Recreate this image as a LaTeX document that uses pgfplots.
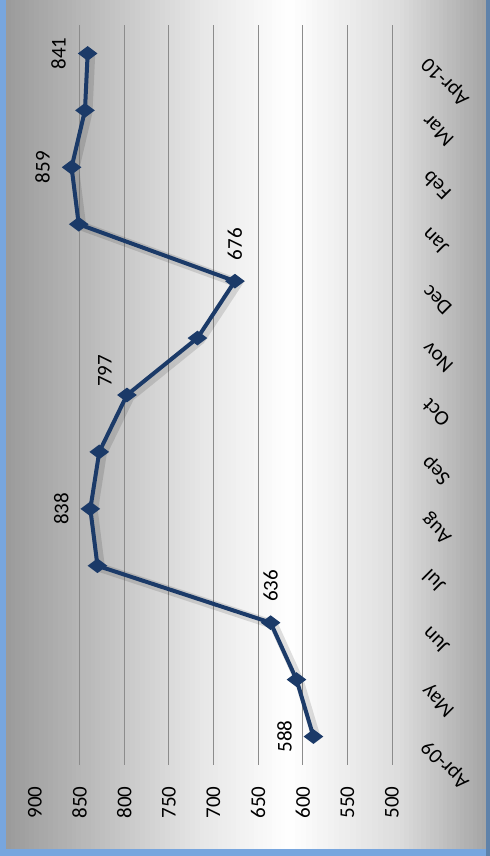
\documentclass[border=0pt]{standalone}
\usepackage{pgfplots}
\pgfplotsset{compat=1.18}
\usepackage{fontspec}
\setmainfont{Carlito}
\definecolor{navy}{RGB}{27,58,104}
\definecolor{bgblue}{RGB}{120,166,222}
\definecolor{bgright}{RGB}{95,130,170}
\definecolor{g0}{RGB}{165,165,165}
\definecolor{g1}{RGB}{220,220,220}
\definecolor{g2}{RGB}{230,230,230}
\definecolor{g3}{RGB}{190,190,190}
\definecolor{g4}{RGB}{154,154,154}
\begin{document}
\begin{tikzpicture}[rotate=90, transform shape]
\useasboundingbox (0,0) rectangle (856bp,490bp);
\fill[bgblue] (0,0) rectangle (856bp,490bp);
\fill[bgright] (0,0) rectangle (856bp,4bp);
\foreach \a/\b/\ca/\cb in {4/90/g0/g1, 90/200/g1/white, 200/290/white/g2, 290/390/g2/g3, 390/484/g3/g4}{
  \foreach \i in {0,...,19}{
    \pgfmathsetmacro\ylo{\a+(\b-\a)*\i/20}
    \pgfmathsetmacro\yhi{min(\a+(\b-\a)*(\i+1)/20+0.6,484)}
    \pgfmathsetmacro\p{100*(\i+0.5)/20}
    \fill[\cb!\p!\ca] (7bp,\ylo bp) rectangle (856bp,\yhi bp);
  }
}
\begin{axis}[
 at={(91bp,98bp)}, anchor=south west,
 scale only axis, width=740bp, height=357bp,
 xmin=-0.5, xmax=12.5, ymin=500, ymax=900,
 xtick={0,...,12},
 xticklabels={Apr-09,May,Jun,Jul,Aug,Sep,Oct,Nov,Dec,Jan,Feb,Mar,Apr-10},
 ytick={500,550,...,850}, extra y ticks={900}, extra y tick style={grid=none},
 ymajorgrids, grid style={black!45, line width=0.8bp},
 axis lines*=left,
 x axis line style={black!45, line width=0.8bp, -},
 y axis line style={draw=none},
 major tick length=0pt,
 /pgf/number format/assume math mode=true,
 tick label style={font=\fontsize{21bp}{25bp}\selectfont, text=black},
 yticklabel style={xshift=-18bp},
 xticklabel style={yshift=-31bp, xshift=-5bp, rotate=45, anchor=east},
 clip=false,
]
\addplot[black, opacity=0.12, line width=9bp, mark=none, xshift=-2bp, yshift=-3bp] coordinates {
 (0,588) (1,607) (2,636) (3,830) (4,838) (5,828) (6,797) (7,718) (8,676) (9,851) (10,859) (11,844) (12,841)};
\addplot[navy, line width=4bp, mark=diamond*, mark size=6.5bp, mark options={fill=navy}] coordinates {
 (0,588) (1,607) (2,636) (3,830) (4,838) (5,828) (6,797) (7,718) (8,676) (9,851) (10,859) (11,844) (12,841)};
% labels above
\addplot[draw=none, mark=none, nodes near coords, point meta=explicit symbolic,
 nodes near coords style={anchor=center, yshift=29bp, font=\fontsize{21bp}{25bp}\selectfont, text=black}]
 coordinates {(0,588)[588] (4,838)[838] (10,859)[859] (12,841)[841]};
% label above right
\addplot[draw=none, mark=none, nodes near coords, point meta=explicit symbolic,
 nodes near coords style={anchor=center, yshift=22bp, xshift=24bp, font=\fontsize{21bp}{25bp}\selectfont, text=black}]
 coordinates {(6,797)[797]};
% labels right
\addplot[draw=none, mark=none, nodes near coords, point meta=explicit symbolic,
 nodes near coords style={anchor=center, xshift=37bp, font=\fontsize{21bp}{25bp}\selectfont, text=black}]
 coordinates {(2,636)[636] (8,676)[676]};
\end{axis}
\end{tikzpicture}
\end{document}
